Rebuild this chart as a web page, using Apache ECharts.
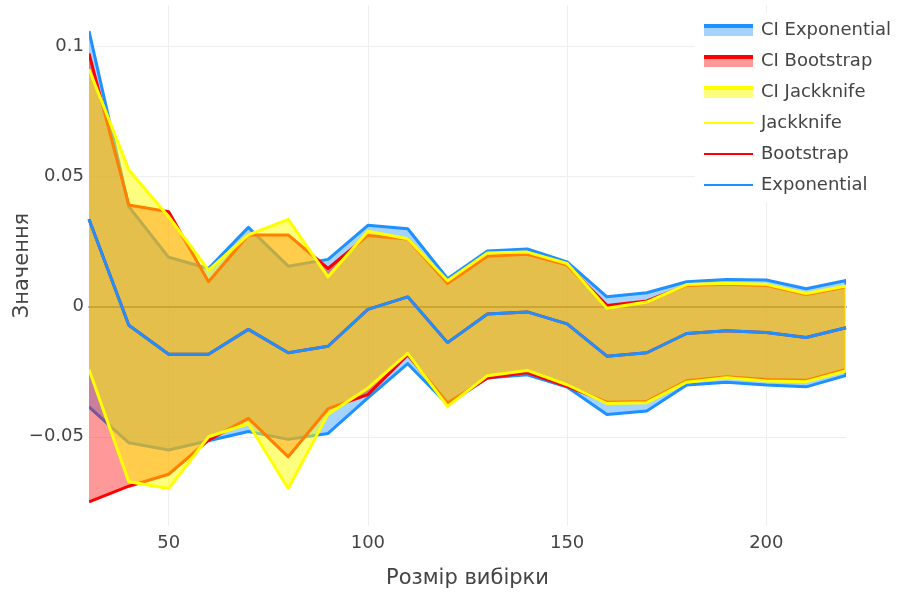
<!DOCTYPE html>
<html>
<head>
<meta charset="utf-8">
<script src="https://cdn.jsdelivr.net/npm/echarts@6/dist/echarts.min.js"></script>
<style>
  html, body { margin: 0; padding: 0; background: #fff; }
  #chart { width: 899px; height: 595px; }
</style>
</head>
<body>
<div id="chart"></div>
<script>
// ---- data ----
const sampleSizes = [30, 40, 50, 60, 70, 80, 90, 100, 110, 120, 130, 140, 150, 160, 170, 180, 190, 200, 210, 220];

const pointEstimate = [0.0336, -0.0071, -0.0183, -0.0183, -0.0087, -0.0177, -0.0152, -0.0010, 0.0038, -0.0138,
                       -0.0028, -0.0020, -0.0066, -0.0190, -0.0177, -0.0103, -0.0092, -0.0099, -0.0118, -0.0081];

const expUpper = [0.1060, 0.0385, 0.0190, 0.0147, 0.0305, 0.0156, 0.0182, 0.0313, 0.0300, 0.0108,
                  0.0214, 0.0222, 0.0172, 0.0038, 0.0054, 0.0096, 0.0105, 0.0103, 0.0069, 0.0101];
const expLower = [-0.0385, -0.0523, -0.0551, -0.0515, -0.0480, -0.0510, -0.0487, -0.0350, -0.0219, -0.0376,
                  -0.0274, -0.0262, -0.0309, -0.0414, -0.0401, -0.0301, -0.0290, -0.0301, -0.0308, -0.0264];

const bootUpper = [0.0974, 0.0391, 0.0365, 0.0096, 0.0276, 0.0276, 0.0147, 0.0274, 0.0260, 0.0089,
                   0.0194, 0.0202, 0.0160, 0.0005, 0.0022, 0.0082, 0.0086, 0.0082, 0.0047, 0.0076];
const bootLower = [-0.0750, -0.0690, -0.0644, -0.0513, -0.0429, -0.0577, -0.0392, -0.0338, -0.0185, -0.0370,
                   -0.0274, -0.0253, -0.0306, -0.0367, -0.0364, -0.0285, -0.0269, -0.0280, -0.0283, -0.0241];

const jackUpper = [0.0913, 0.0526, 0.0346, 0.0141, 0.0276, 0.0336, 0.0115, 0.0290, 0.0261, 0.0100,
                   0.0207, 0.0210, 0.0166, -0.0006, 0.0018, 0.0085, 0.0090, 0.0086, 0.0051, 0.0080];
const jackLower = [-0.0241, -0.0673, -0.0699, -0.0500, -0.0450, -0.0699, -0.0413, -0.0313, -0.0179, -0.0383,
                   -0.0265, -0.0245, -0.0300, -0.0372, -0.0369, -0.0290, -0.0273, -0.0286, -0.0288, -0.0247];

const yTickValues = [-0.05, 0, 0.05, 0.1];
const xTickValues = [50, 100, 150, 200];

// ---- styling ----
const FONT = 'DejaVu Sans, Verdana, sans-serif';
const TEXT = '#444';
const BLUE = 'rgb(30,144,255)';
const RED = 'rgb(255,0,0)';
const YELLOW = 'rgb(255,255,0)';
const BLUE_FILL = 'rgba(30,144,255,0.4)';
const RED_FILL = 'rgba(255,0,0,0.4)';
const YELLOW_FILL = 'rgba(255,255,0,0.5)';
const LW = 3;

function bandData(lo, hi) {
  return sampleSizes.map((x, i) => [x, lo[i], hi[i]]);
}
function lineData(vals) {
  return sampleSizes.map((x, i) => [x, vals[i]]);
}
function bandRenderer(lineColor, fillColor) {
  return function (params, api) {
    if (params.dataIndex !== 0) return;
    const n = params.dataInsideLength;
    const up = [], low = [];
    for (let i = 0; i < n; i++) {
      const x = api.value(0, i);
      up.push(api.coord([x, api.value(2, i)]));
      low.push(api.coord([x, api.value(1, i)]));
    }
    const ring = up.concat(low.reverse());
    return {
      type: 'group',
      children: [
        { type: 'polygon', shape: { points: ring }, style: { fill: fillColor } },
        { type: 'polyline', shape: { points: ring },
          style: { stroke: lineColor, lineWidth: LW, fill: null, lineJoin: 'round' } }
      ]
    };
  };
}
function swatch(lineColor, fillColor) {
  return {
    type: 'linear', x: 0, y: 0, x2: 0, y2: 1,
    colorStops: [
      { offset: 0, color: lineColor }, { offset: 0.3, color: lineColor },
      { offset: 0.3, color: fillColor }, { offset: 1, color: fillColor }
    ]
  };
}
function fmtY(v) {
  let s = String(+v.toFixed(4));
  if (Math.abs(v) < 1e-9) s = '0';
  return s.replace('-', '\u2212');
}
const noSymbol = { color: 'rgba(0,0,0,0)', borderWidth: 0, opacity: 0 };

const chart = echarts.init(document.getElementById('chart'), null, { renderer: 'canvas' });
chart.setOption({
  animation: false,
  backgroundColor: '#fff',
  textStyle: { fontFamily: FONT },
  grid: { left: 89, right: 53, top: 5, bottom: 69, containLabel: false, outerBoundsMode: 'none' },
  legend: {
    orient: 'vertical',
    left: 695, top: 13,
    padding: [8, 8, 8, 8],
    backgroundColor: '#fff',
    itemWidth: 49, itemHeight: 12, itemGap: 13,
    textStyle: { fontFamily: FONT, fontSize: 18, color: TEXT, lineHeight: 18, padding: [0, 0, 0, 3] },
    data: [
      { name: 'CI Exponential', icon: 'rect', itemStyle: { color: swatch(BLUE, BLUE_FILL) } },
      { name: 'CI Bootstrap', icon: 'rect', itemStyle: { color: swatch(RED, RED_FILL) } },
      { name: 'CI Jackknife', icon: 'rect', itemStyle: { color: swatch(YELLOW, YELLOW_FILL) } },
      { name: 'Jackknife', itemStyle: noSymbol },
      { name: 'Bootstrap', itemStyle: noSymbol },
      { name: 'Exponential', itemStyle: noSymbol }
    ]
  },
  xAxis: {
    type: 'value', min: 30, max: 220, minInterval: 50, maxInterval: 50,
    name: 'Розмір вибірки', nameLocation: 'middle', nameGap: 42, nameMoveOverlap: false,
    nameTextStyle: { fontFamily: FONT, fontSize: 21, color: TEXT },
    axisLine: { show: true, onZero: true, lineStyle: { color: '#444', width: 1.5 } },
    axisTick: { show: false },
    axisLabel: {
      fontFamily: FONT, fontSize: 18, color: TEXT, margin: 8,
      showMinLabel: false, showMaxLabel: false,
      formatter: v => (xTickValues.indexOf(Math.round(v)) >= 0 ? String(Math.round(v)) : '')
    },
    splitLine: { show: true, showMinLine: false, showMaxLine: false, lineStyle: { color: '#eee', width: 1 } }
  },
  yAxis: {
    type: 'value', min: -0.0843, max: 0.116, minInterval: 0.05, maxInterval: 0.05,
    name: 'Значення', nameLocation: 'middle', nameGap: 56, nameRotate: 90, nameMoveOverlap: false,
    nameTextStyle: { fontFamily: FONT, fontSize: 21, color: TEXT },
    axisLine: { show: false },
    axisTick: { show: false },
    axisLabel: {
      fontFamily: FONT, fontSize: 18, color: TEXT, margin: 5,
      showMinLabel: false, showMaxLabel: false,
      formatter: v => (yTickValues.some(t => Math.abs(t - v) < 1e-6) ? fmtY(v) : '')
    },
    splitLine: { show: true, showMinLine: false, showMaxLine: false, lineStyle: { color: '#eee', width: 1 } }
  },
  series: [
    { name: 'CI Exponential', type: 'custom', z: 2, clip: true, silent: true,
      data: bandData(expLower, expUpper), encode: { x: 0, y: [1, 2] },
      itemStyle: { color: swatch(BLUE, BLUE_FILL) },
      renderItem: bandRenderer(BLUE, BLUE_FILL) },
    { name: 'CI Bootstrap', type: 'custom', z: 3, clip: true, silent: true,
      data: bandData(bootLower, bootUpper), encode: { x: 0, y: [1, 2] },
      itemStyle: { color: swatch(RED, RED_FILL) },
      renderItem: bandRenderer(RED, RED_FILL) },
    { name: 'CI Jackknife', type: 'custom', z: 4, clip: true, silent: true,
      data: bandData(jackLower, jackUpper), encode: { x: 0, y: [1, 2] },
      itemStyle: { color: swatch(YELLOW, YELLOW_FILL) },
      renderItem: bandRenderer(YELLOW, YELLOW_FILL) },
    { name: 'Jackknife', type: 'line', z: 5, symbol: 'none', silent: true,
      data: lineData(pointEstimate), itemStyle: { color: YELLOW },
      lineStyle: { color: YELLOW, width: LW } },
    { name: 'Bootstrap', type: 'line', z: 6, symbol: 'none', silent: true,
      data: lineData(pointEstimate), itemStyle: { color: RED },
      lineStyle: { color: RED, width: LW } },
    { name: 'Exponential', type: 'line', z: 7, symbol: 'none', silent: true,
      data: lineData(pointEstimate), itemStyle: { color: BLUE },
      lineStyle: { color: BLUE, width: LW } }
  ]
});
</script>
</body>
</html>
